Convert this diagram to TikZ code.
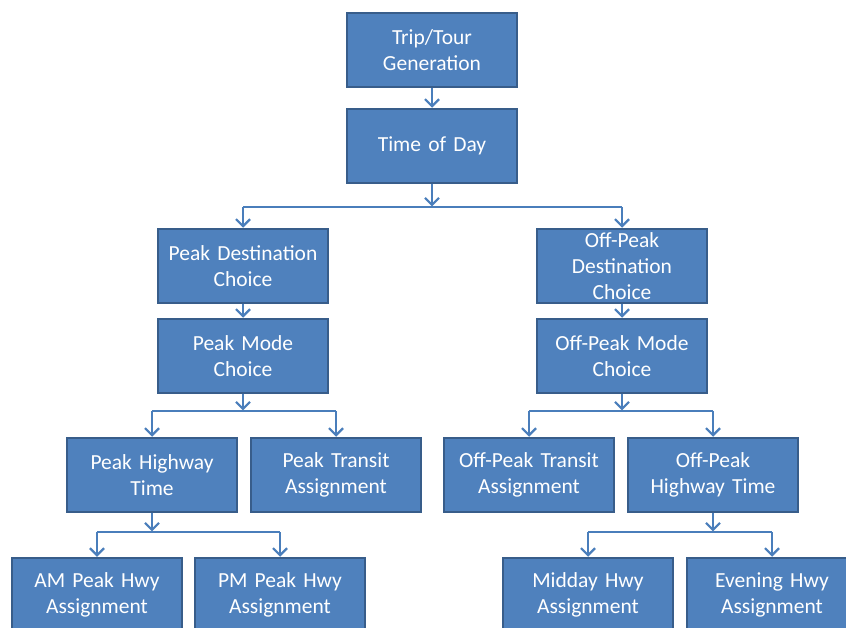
\documentclass[tikz,border=0pt]{standalone}
\usepackage{fontspec}
\setmainfont[WordSpace={0.85,0,0}]{Carlito}
\usetikzlibrary{arrows.meta}
\definecolor{boxfill}{HTML}{4F81BD}
\definecolor{boxline}{HTML}{385D8A}
\definecolor{conn}{HTML}{4A7EBB}
\tikzset{
  blk/.style={draw=boxline, line width=1.3pt, fill=boxfill, text=white,
    minimum width=170pt, minimum height=74pt, inner sep=0pt,
    text width=168pt, align=center, font=\fontsize{21.5}{26}\selectfont},
  conline/.style={draw=conn, line width=2.2pt},
  arr/.style={conline, -{Straight Barb[length=7pt,width=14pt,line width=2.2pt]}, shorten >=0.6pt}
}
\begin{document}
\begin{tikzpicture}[x=1pt,y=-1pt]
\useasboundingbox (0,0) rectangle (846,628);
\clip (0,0) rectangle (846,628);
% nodes
\node[blk] (trip) at (432,50) {Trip/Tour\\Generation};
\node[blk] (tod) at (432,146) {Time of Day};
\node[blk] (pdest) at (243,266) {Peak Destination\\Choice};
\node[blk] (odest) at (622,266) {Off-Peak\\Destination\\Choice};
\node[blk] (pmode) at (243,356) {Peak Mode\\Choice};
\node[blk] (omode) at (622,356) {Off-Peak Mode\\Choice};
\node[blk] (phwy) at (152,475) {Peak Highway\\Time};
\node[blk] (ptr) at (336,475) {Peak Transit\\Assignment};
\node[blk] (otr) at (529,475) {Off-Peak Transit\\Assignment};
\node[blk] (ohwy) at (713,475) {Off-Peak\\Highway Time};
\node[blk] (am) at (97,595) {AM Peak Hwy\\Assignment};
\node[blk] (pm) at (280,595) {PM Peak Hwy\\Assignment};
\node[blk] (mid) at (588,595) {Midday Hwy\\Assignment};
\node[blk] (eve) at (772,595) {Evening Hwy\\Assignment};
% bus coordinates
\coordinate (b1) at (432,207);
\coordinate (b2) at (243,411);
\coordinate (b3) at (622,411);
\coordinate (b4) at (152,532);
\coordinate (b5) at (713,532);
% straight arrows
\draw[arr] (trip) -- (tod);
\draw[arr] (pdest) -- (pmode);
\draw[arr] (odest) -- (omode);
% fan 1
\draw[arr] (tod.south) -- (b1);
\draw[conline] (pdest.north |- b1) -- (odest.north |- b1);
\draw[arr] (pdest.north |- b1) -- (pdest.north);
\draw[arr] (odest.north |- b1) -- (odest.north);
% fan 2
\draw[arr] (pmode.south) -- (b2);
\draw[conline] (phwy.north |- b2) -- (ptr.north |- b2);
\draw[arr] (phwy.north |- b2) -- (phwy.north);
\draw[arr] (ptr.north |- b2) -- (ptr.north);
% fan 3
\draw[arr] (omode.south) -- (b3);
\draw[conline] (otr.north |- b3) -- (ohwy.north |- b3);
\draw[arr] (otr.north |- b3) -- (otr.north);
\draw[arr] (ohwy.north |- b3) -- (ohwy.north);
% fan 4
\draw[arr] (phwy.south) -- (b4);
\draw[conline] (am.north |- b4) -- (pm.north |- b4);
\draw[arr] (am.north |- b4) -- (am.north);
\draw[arr] (pm.north |- b4) -- (pm.north);
% fan 5
\draw[arr] (ohwy.south) -- (b5);
\draw[conline] (mid.north |- b5) -- (eve.north |- b5);
\draw[arr] (mid.north |- b5) -- (mid.north);
\draw[arr] (eve.north |- b5) -- (eve.north);
\end{tikzpicture}
\end{document}
